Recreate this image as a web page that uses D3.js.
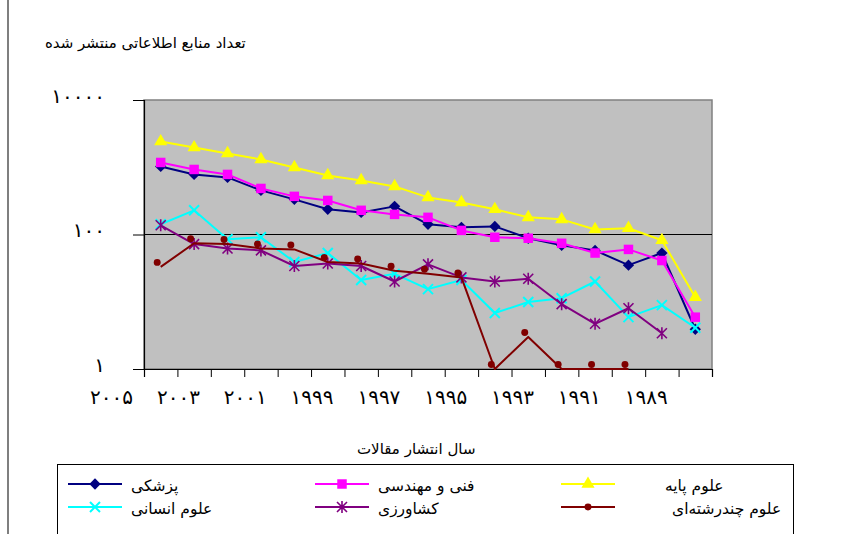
<!DOCTYPE html>
<html><head><meta charset="utf-8">
<script src="https://cdn.jsdelivr.net/npm/d3@7/dist/d3.min.js"></script>
<style>body{margin:0;background:#fff}svg{display:block}text{font-family:"DejaVu Sans",sans-serif;fill:#000}</style>
</head><body>
<svg id="c" width="853" height="534"></svg>
<script>
const years = ["۲۰۰۵","۲۰۰۴","۲۰۰۳","۲۰۰۲","۲۰۰۱","۲۰۰۰","۱۹۹۹","۱۹۹۸","۱۹۹۷","۱۹۹۶","۱۹۹۵","۱۹۹۴","۱۹۹۳","۱۹۹۲","۱۹۹۱","۱۹۹۰","۱۹۸۹"];
const medicine = [1028,782,706,453,333,237,213,262,142,128,132,88,69,58,35,53,3.9];
const engineering = [1178,927,782,484,369,321,229,199,180,115,91,88,74,53,60,41,5.9];
const basicSci = [2415,1968,1603,1306,993,756,637,519,356,300,237,180,168,119,124,82,11.7];
const humanities = [142,229,85,91,39,53,21,26,15.4,21,6.8,9.9,11.3,20,5.9,8.9,4.1];
const agriculture = [137,72,62,58,34,37,34,20,36,23,20,22,9.2,4.7,8.0,3.4,null];
const multidisc = [33,74,72,62,60,39,37,29,26,23,1,3,1,1,1,null,null];
const yTicks = [1,100,10000];
const yTickLabels = ["۱","۱۰۰","۱۰۰۰۰"];
const seriesNames = ["پزشکی","فنی و مهندسی","علوم پایه","علوم انسانی","کشاورزی","علوم چندرشته‌ای"];
const titleText = "تعداد منابع اطلاعاتی منتشر شده";
const xTitleText = "سال انتشار مقالات";

const series = [
  {name:seriesNames[0], values:medicine, color:"#000080", marker:"diamond"},
  {name:seriesNames[1], values:engineering, color:"#FF00FF", marker:"square"},
  {name:seriesNames[2], values:basicSci, color:"#FFFF00", marker:"triangle"},
  {name:seriesNames[3], values:humanities, color:"#00FFFF", marker:"x"},
  {name:seriesNames[4], values:agriculture, color:"#800080", marker:"star"},
  {name:seriesNames[5], values:multidisc, color:"#800000", marker:"dot"}
];

const svg = d3.select("#c");
const L=144, R=712, T=100, B=369;
const x = d3.scaleLinear().domain([-0.5, years.length-0.5]).range([L,R]);
const y = d3.scaleLog().domain([1,10000]).range([B,T]);

// outer frame (left edge visible)
svg.append("rect").attr("x",8).attr("y",-10).attr("width",2000).attr("height",2000)
  .attr("fill","#fff").attr("stroke","#606060").attr("stroke-width",1.6);

// plot area
svg.append("rect").attr("x",L).attr("y",T).attr("width",R-L).attr("height",B-T)
  .attr("fill","#C0C0C0").attr("stroke","#808080").attr("stroke-width",1.5);

// gridlines (major)
svg.append("g").selectAll("line").data(yTicks.filter(v=>v>1 && v<10000)).join("line")
  .attr("x1",L).attr("x2",R).attr("y1",d=>y(d)).attr("y2",d=>y(d))
  .attr("stroke","#000").attr("stroke-width",1);

// y axis
const yAxis = d3.axisLeft(y).tickValues(yTicks).tickSize(11).tickFormat("");
const gy = svg.append("g").attr("transform",`translate(${L},0)`).call(yAxis);
gy.select(".domain").attr("stroke","#000").attr("stroke-width",1.2);
gy.selectAll(".tick line").attr("stroke","#000");
svg.append("g").selectAll("text").data(yTicks).join("text")
  .attr("x",105).attr("y",d=>y(d)-3).attr("text-anchor","end").attr("dominant-baseline","middle")
  .style("font-size","20px").style("letter-spacing","3px")
  .text((d,i)=>yTickLabels[i]);

// x axis
const bounds = d3.range(years.length+1).map(i=>i-0.5);
const xAxis = d3.axisBottom(x).tickValues(bounds).tickSize(8).tickFormat("");
const gx = svg.append("g").attr("transform",`translate(0,${B})`).call(xAxis);
gx.select(".domain").attr("stroke","#000").attr("stroke-width",1.2);
gx.selectAll(".tick line").attr("stroke","#000");
svg.append("g").selectAll("text").data(years.map((d,i)=>({d,i})).filter(o=>o.i%2===0)).join("text")
  .attr("x",o=>x(o.i-1.5)+1).attr("y",398).attr("text-anchor","middle").attr("dominant-baseline","middle")
  .style("font-size","20px").style("letter-spacing","3px")
  .text(o=>o.d);

// markers
function markerPath(type){
  switch(type){
    case "diamond": return d3.symbol(d3.symbolSquare,64)();
    case "square": return d3.symbol(d3.symbolSquare,90)();
    case "triangle": return d3.symbol(d3.symbolTriangle,75)();
    case "x": return "M-5,-5L5,5M-5,5L5,-5";
    case "star": return "M-5,-5L5,5M-5,5L5,-5M0,-6L0,6";
    case "dot": return d3.symbol(d3.symbolCircle,38)();
  }
}
function drawMarker(g, s, cx, cy){
  const p = g.append("path").attr("d",markerPath(s.marker));
  let tr = `translate(${cx},${cy})`;
  if(s.marker==="diamond") tr += " rotate(45)";
  p.attr("transform",tr);
  if(s.marker==="x"||s.marker==="star"){
    p.attr("fill","none").attr("stroke",s.color).attr("stroke-width",s.marker==="x"?2:1.6);
  } else p.attr("fill",s.color).attr("stroke","none");
}

const line = d3.line().defined(d=>d.v!=null).x(d=>x(d.i)).y(d=>y(d.v));
series.forEach(s=>{
  const pts = s.values.map((v,i)=>({v,i}));
  const g = svg.append("g");
  g.append("path").datum(pts).attr("d",line).attr("fill","none")
    .attr("stroke",s.color).attr("stroke-width",2).attr("stroke-linejoin","round");
  const mg = g.append("g");
  if(s.marker==="dot") mg.attr("transform","translate(-3.5,-4.5)");
  pts.filter(p=>p.v!=null).forEach(p=>drawMarker(mg,s,x(p.i),y(p.v)));
});

// helper: place text with left edge at given x
function placeLeft(sel, left){
  const bb = sel.node().getBBox();
  sel.attr("x", (+sel.attr("x")) + (left - bb.x));
}

// title
const t = svg.append("text").attr("x",0).attr("y",43).attr("dominant-baseline","middle")
  .style("font-size","15px").text(titleText);
placeLeft(t,45);

// x title
const xt = svg.append("text").attr("x",0).attr("y",449).attr("dominant-baseline","middle")
  .style("font-size","15px").text(xTitleText);
placeLeft(xt,357);

// legend
svg.append("rect").attr("x",57.5).attr("y",464.5).attr("width",736).attr("height",100)
  .attr("fill","#fff").attr("stroke","#000").attr("stroke-width",1);
const colLine = [68,315,561];
const rowY = [484,507];
const textLeft = [131,378,665,131,378,672];
series.forEach((s,k)=>{
  const col = k%3, row = Math.floor(k/3);
  const g = svg.append("g");
  const ly = rowY[row];
  g.append("line").attr("x1",colLine[col]).attr("x2",colLine[col]+54).attr("y1",ly).attr("y2",ly)
    .attr("stroke",s.color).attr("stroke-width",2);
  drawMarker(g,s,colLine[col]+27,ly);
  const tx = g.append("text").attr("x",0).attr("y",ly+2).attr("dominant-baseline","middle")
    .style("font-size","15.5px").text(s.name);
  placeLeft(tx,textLeft[k]);
});
</script>
</body></html>
